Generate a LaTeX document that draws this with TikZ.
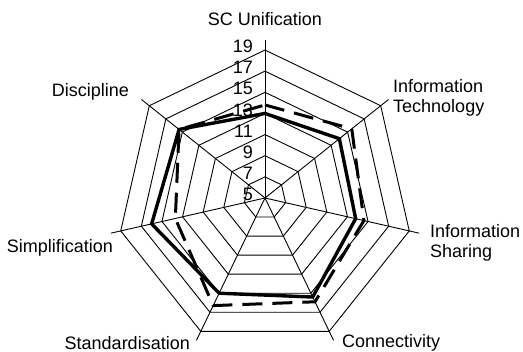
\documentclass[tikz,border=0pt]{standalone}
\usepackage{fontspec}
\setmainfont{Liberation Sans}
\begin{document}
\begin{tikzpicture}
[x=1pt,y=1pt,
  gridDecorate/.style={draw=black,line width=0.9pt},%
  solidDecorate/.style={draw=black,line width=3.4pt,line join=miter},%
  dashDecorate/.style={draw=black,line width=3pt,dash pattern=on 20pt off 10pt},%
  labelDecorate/.style={font=\fontsize{18}{20}\selectfont,inner sep=0pt,align=left},%
  tickDecorate/.style={font=\fontsize{18}{20}\selectfont,inner sep=0pt,anchor=east}]
\useasboundingbox (-265,-154) rectangle (258,198);
%% rings of the web
\foreach \v in {7,9,...,19}
{
  \pgfmathsetmacro{\r}{(\v-5)*10.57}
  \draw[gridDecorate] (90:\r) \foreach \i in {1,...,6} {-- (90-\i*360/7:\r)} -- cycle;
}
%% spokes
\coordinate (c) at (0,0);
\foreach \i in {0,...,6}
{
  \coordinate (o\i) at (90-\i*360/7:158);
  \draw[gridDecorate] (c) -- (o\i);
}
%% scale
\foreach \v in {5,7,...,19}
{
  \node[tickDecorate] (t\v) at (-12,{(\v-5)*10.57+3.5}) {\v};
}
%% spoke labels
\node[labelDecorate,anchor=base] (sc) at (0,172) {SC Unification};
\node[labelDecorate,anchor=west] (it) at (128,100) {Information\\Technology};
\node[labelDecorate,anchor=west] (is) at (165,-45) {Information\\Sharing};
\node[labelDecorate,anchor=west] (cn) at (77,-145) {Connectivity};
\node[labelDecorate,anchor=east] (sd) at (-75,-145) {Standardisation};
\node[labelDecorate,anchor=east] (sp) at (-152,-50) {Simplification};
\node[labelDecorate,anchor=east] (dc) at (-136,106) {Discipline};
%% series values
\foreach \val [count=\i from 0] in {13, 14, 13.8, 15.4, 15, 16, 15.4}
{
  \coordinate (s\i) at (90-\i*360/7:{(\val-5)*10.57});
}
\foreach \val [count=\i from 0] in {13.8, 15.5, 14.6, 15.9, 16.3, 13.7, 15.4}
{
  \coordinate (d\i) at (90-\i*360/7:{(\val-5)*10.57});
}
\draw[dashDecorate] (d0) -- (d1) -- (d2) -- (d3) -- (d4) -- (d5) -- (d6) -- cycle;
\draw[solidDecorate] (s0) -- (s1) -- (s2) -- (s3) -- (s4) -- (s5) -- (s6) -- cycle;
\end{tikzpicture}
\end{document}
